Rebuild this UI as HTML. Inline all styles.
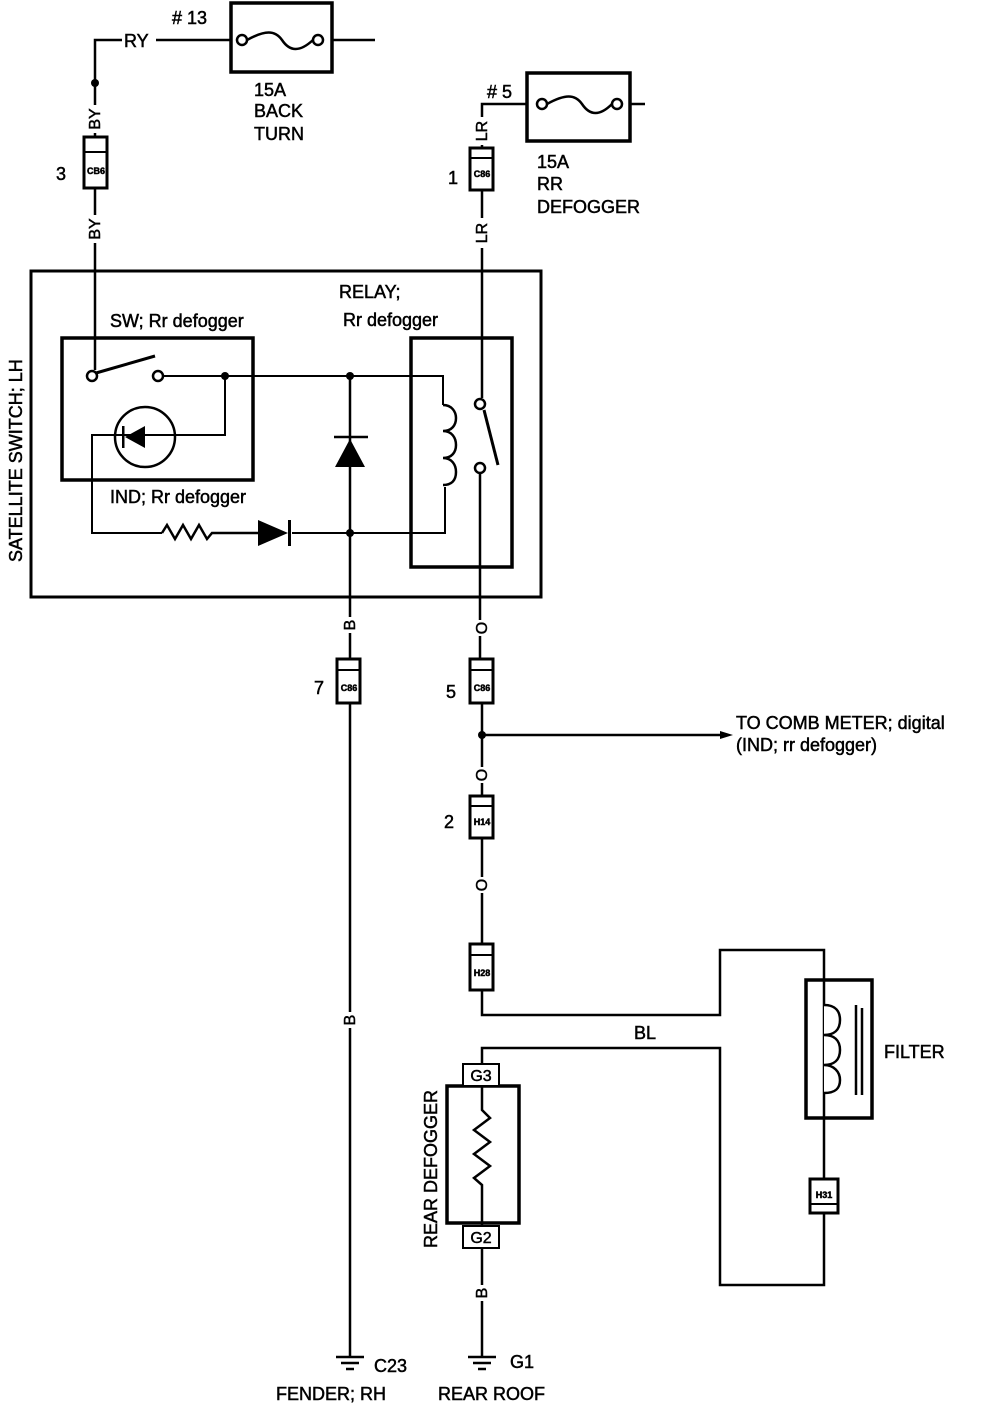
<!DOCTYPE html>
<html><head><style>
html,body{margin:0;padding:0;background:#fff}
svg{display:block}
text{font-family:"Liberation Sans",sans-serif;fill:#000;stroke:#000;stroke-width:0.5}
</style></head><body>
<svg width="1008" height="1404" viewBox="0 0 1008 1404" xmlns="http://www.w3.org/2000/svg">
<g fill="none" stroke="#000" stroke-width="2.5">
<!-- fuse 13 -->
<rect x="231" y="3" width="101" height="69" stroke-width="3.5"/>
<circle cx="242" cy="40" r="5"/><circle cx="318" cy="40" r="5"/>
<path d="M247 40 C265 30,275 30,282 40 C290 52,300 52,313 40"/>
<path d="M95 150 V40 H231 M332 40 H375"/>
<!-- fuse 5 -->
<rect x="527" y="73" width="103" height="68" stroke-width="3.5"/>
<circle cx="542" cy="104" r="5"/><circle cx="617" cy="104" r="5"/>
<path d="M547 104 C565 94,575 94,582 104 C590 116,600 116,612 104"/>
<path d="M630 104 H645 M527 104 H482 V398"/>
<path d="M95 150 V370"/>
<!-- main box -->
<rect x="31" y="271" width="510" height="326" stroke-width="3"/>
<rect x="62" y="338" width="191" height="142" stroke-width="3.5"/>
<rect x="411" y="338" width="101" height="229" stroke-width="3.5"/>
<!-- switch -->
<circle cx="92" cy="376" r="5" stroke-width="2.5"/>
<path d="M96 373 L155 356" stroke-width="3"/>
<circle cx="158" cy="376" r="5" stroke-width="2.5"/>
<path d="M163 376 H443 V405" stroke-width="2"/>
<path d="M225 376 V435 H92 V533 H162" stroke-width="2"/>
<circle cx="145" cy="437" r="30" stroke-width="2.5"/>
<path d="M162 533 l5 -8 l8 14 l8 -14 l8 14 l8 -14 l8 14 l5 -6 H258"/>
<path d="M292 533 H445 V487" stroke-width="2"/>
<!-- coil -->
<path d="M443 405 C452 405,456 412,456 418 C456 425,452 431,443 431 C452 431,456 438,456 445 C456 452,452 458,443 458 C452 458,456 465,456 472 C456 480,452 485,443 485"/>
<!-- relay switch -->
<circle cx="480" cy="404" r="5" stroke-width="2.5"/>
<path d="M484 410 L498 465" stroke-width="3"/>
<circle cx="480" cy="468" r="5" stroke-width="2.5"/>
<path d="M480 473 V660"/>
<path d="M350 376 V660"/>
<path d="M334 437 H368" stroke-width="2.5"/>
<path d="M350 703 V1357"/>
<path d="M336 1357 H364 M341 1363 H359 M346 1369 H354" stroke-width="2.5"/>
<path d="M482 703 V943"/>
<path d="M482 735 H720"/>
<path d="M482 990 V1015 H720 V950 H824 V1178"/>
<rect x="806" y="980" width="66" height="138" stroke-width="3.5"/>
<path d="M824 1005 C836 1005,840 1012,840 1020 C840 1030,834 1035,824 1035 C834 1035,840 1040,840 1050 C840 1060,834 1065,824 1065 C834 1065,840 1072,840 1080 C840 1088,836 1093,824 1093" fill="#fff"/>
<path d="M856 1005 V1095 M862 1008 V1095" stroke-width="2.5"/>
<path d="M824 1213 V1285 H720 V1048 H482 V1063"/>
<rect x="447" y="1086" width="72" height="137" stroke-width="3.5"/>
<path d="M482 1086 V1110 L490 1118 L474 1130 L490 1142 L474 1154 L490 1166 L474 1178 L482 1185 V1226" stroke-width="2.5"/>
<path d="M482 1248 V1357"/>
<path d="M468 1357 H496 M473 1363 H491 M478 1369 H486" stroke-width="2.5"/>
</g>
<g fill="#000">
<circle cx="95" cy="83" r="4"/>
<circle cx="225" cy="376" r="4"/><circle cx="350" cy="376" r="4"/><circle cx="350" cy="533" r="4"/>
<circle cx="482" cy="735" r="4"/>
<polygon points="125,437 145,426 145,448"/>
<rect x="122" y="426" width="2.5" height="22"/>
<polygon points="258,520 258,546 288,533"/>
<rect x="288" y="520" width="3" height="26"/>
<polygon points="335,467 365,467 350,439"/>
<polygon points="720,731 733,735 720,739"/>
</g>
<g fill="#fff" stroke="#000" stroke-width="3">
<rect x="84" y="137" width="23" height="51"/>
<rect x="470" y="148" width="23" height="42"/>
<rect x="337" y="659" width="23" height="44"/>
<rect x="470" y="659" width="23" height="44"/>
<rect x="470" y="796" width="23" height="42"/>
<rect x="470" y="944" width="23" height="46"/>
<rect x="810" y="1179" width="28" height="34"/>
<rect x="463" y="1064" width="36" height="22" stroke-width="2"/>
<rect x="463" y="1226" width="36" height="22" stroke-width="2"/>
</g>
<g stroke="#000" stroke-width="2">
<path d="M84 152 H107 M470 158 H493 M337 670 H360 M470 670 H493 M470 806 H493 M470 955 H493 M810 1204 H838"/>
</g>
<g font-size="9" font-weight="bold" text-anchor="middle" style="stroke-width:0">
<text x="96" y="174">CB6</text><text x="482" y="177">C86</text>
<text x="349" y="691">C86</text><text x="482" y="691">C86</text>
<text x="482" y="825">H14</text><text x="482" y="976">H28</text>
<text x="824" y="1198">H31</text>
</g>
<g font-size="16" text-anchor="middle">
<text x="481" y="1081">G3</text><text x="481" y="1243">G2</text>
</g>
<g font-size="16" text-anchor="middle">
<rect x="88" y="105" width="14" height="28" fill="#fff" stroke="none"/>
<text transform="translate(100,119) rotate(-90)">BY</text>
<rect x="88" y="215" width="14" height="28" fill="#fff" stroke="none"/>
<text transform="translate(100,229) rotate(-90)">BY</text>
<rect x="475" y="117" width="14" height="28" fill="#fff" stroke="none"/>
<text transform="translate(487,131) rotate(-90)">LR</text>
<rect x="475" y="218" width="14" height="30" fill="#fff" stroke="none"/>
<text transform="translate(487,233) rotate(-90)">LR</text>
<rect x="343" y="617" width="14" height="16" fill="#fff" stroke="none"/>
<text transform="translate(355,625) rotate(-90)">B</text>
<rect x="475" y="620" width="14" height="16" fill="#fff" stroke="none"/>
<text transform="translate(487,628) rotate(-90)">O</text>
<rect x="475" y="767" width="14" height="16" fill="#fff" stroke="none"/>
<text transform="translate(487,775) rotate(-90)">O</text>
<rect x="475" y="877" width="14" height="16" fill="#fff" stroke="none"/>
<text transform="translate(487,885) rotate(-90)">O</text>
<rect x="343" y="1012" width="14" height="16" fill="#fff" stroke="none"/>
<text transform="translate(355,1020) rotate(-90)">B</text>
<rect x="475" y="1285" width="14" height="16" fill="#fff" stroke="none"/>
<text transform="translate(487,1293) rotate(-90)">B</text>
</g>
<rect x="122" y="32" width="34" height="16" fill="#fff"/>
<g font-size="18">
<text x="124" y="47">RY</text>
<text x="172" y="24"># 13</text>
<text x="254" y="96">15A</text><text x="254" y="117">BACK</text><text x="254" y="140">TURN</text>
<text x="487" y="98"># 5</text>
<text x="537" y="168">15A</text><text x="537" y="190">RR</text><text x="537" y="213">DEFOGGER</text>
<text x="56" y="180">3</text><text x="448" y="184">1</text>
<text x="339" y="298">RELAY;</text><text x="343" y="326">Rr defogger</text>
<text x="110" y="327">SW; Rr defogger</text>
<text x="110" y="503">IND; Rr defogger</text>
<text x="314" y="694">7</text><text x="446" y="698">5</text><text x="444" y="828">2</text>
<text x="736" y="729">TO COMB METER; digital</text>
<text x="736" y="751">(IND; rr defogger)</text>
<text x="634" y="1039">BL</text>
<text x="884" y="1058">FILTER</text>
<text x="374" y="1372">C23</text><text x="276" y="1400">FENDER; RH</text>
<text x="510" y="1368">G1</text><text x="438" y="1400">REAR ROOF</text>
<text transform="translate(22,562) rotate(-90)">SATELLITE SWITCH; LH</text>
<text transform="translate(437,1248) rotate(-90)">REAR DEFOGGER</text>
</g>
</svg>
</body></html>
